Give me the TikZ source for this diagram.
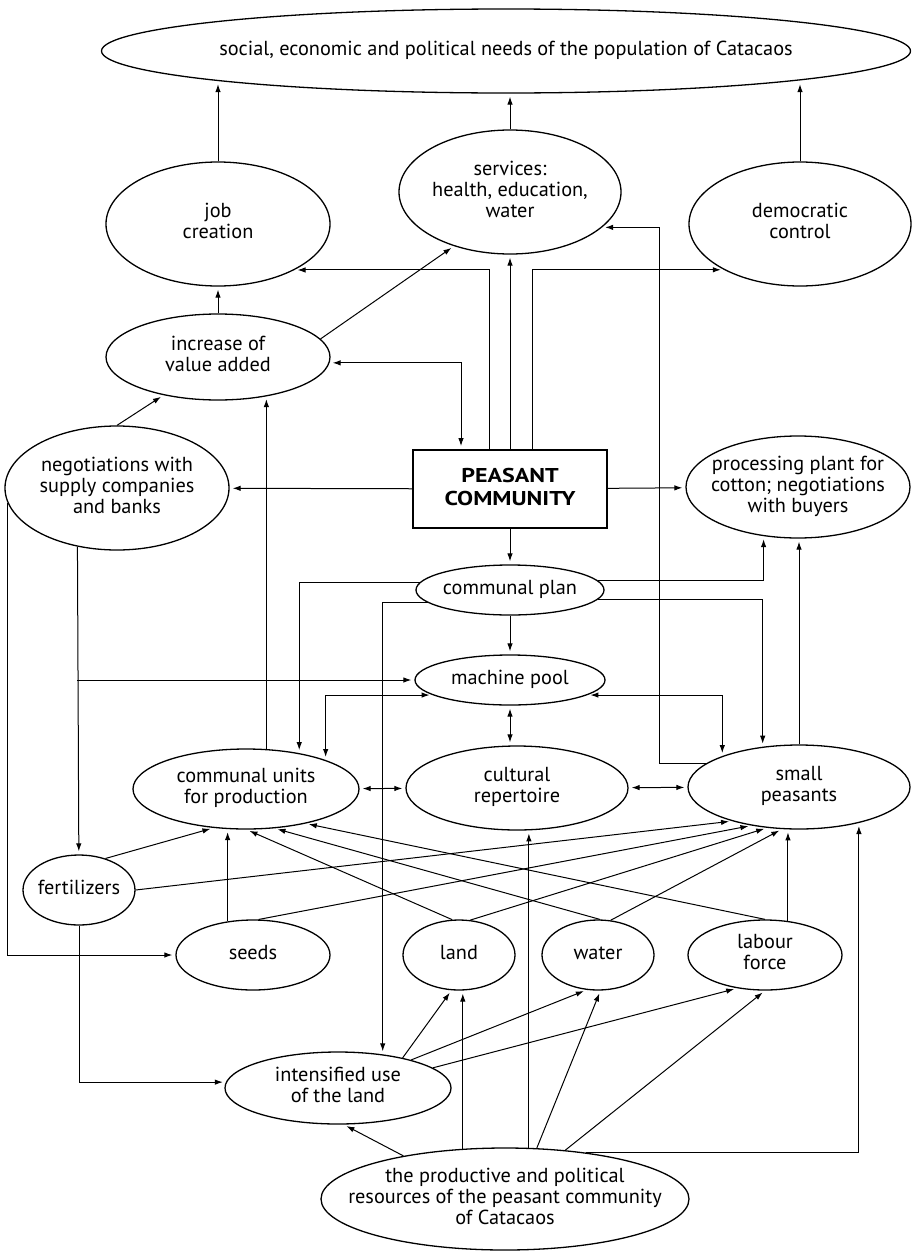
\documentclass[tikz,border=0pt]{standalone}
\usepackage{fontspec}
\setmainfont{PT Sans}
\newfontfamily\headfont{PT Sans Bold}[FakeStretch=1.2]
\usetikzlibrary{shapes.geometric,arrows.meta}

% centred multi-line text that does not widen the node
\newcommand\celltext[1]{\makebox[0pt]{\begin{tabular}{@{}c@{}}#1\end{tabular}}}

\begin{document}
\begin{tikzpicture}[x=1pt,y=-1pt,
  bub/.style 2 args={ellipse, draw, line width=1.3pt, inner sep=0pt,
    minimum width=#1, minimum height=#2},
  >={Latex[length=8pt,width=5.5pt]},
  conn/.style={->, line width=1pt, shorten >=3pt},
  conn2/.style={<->, line width=1pt, shorten >=3pt, shorten <=3pt},
  every node/.style={font=\fontsize{20.3}{21}\selectfont}
]
\useasboundingbox (0,0) rectangle (914,1253);

% ---------- nodes ----------
\node[bub={809pt}{84pt}] (needs) at (506,51)
  {\celltext{social, economic and political needs of the population of Catacaos}};
\node[bub={224pt}{124pt}] (job) at (218,224) {\celltext{job\\creation}};
\node[bub={222pt}{124pt}] (serv) at (510,192) {\celltext{services:\\health, education,\\water}};
\node[bub={222pt}{124pt}] (demo) at (800,224) {\celltext{democratic\\control}};
\node[bub={224pt}{86pt}] (incr) at (218,357) {\celltext{increase of\\value added}};
\node[bub={224pt}{124pt}] (nego) at (117,488)
  {\celltext{negotiations with\\supply companies\\and banks}};
\node[draw, line width=1.8pt, minimum width=194pt, minimum height=78pt, inner sep=0pt,
  font=\headfont\fontsize{20}{23}\selectfont] (peasant) at (510,489)
  {\celltext{PEASANT\\COMMUNITY}};
\node[bub={224pt}{102pt}] (proc) at (798,487)
  {\celltext{processing plant for\\cotton; negotiations\\with buyers}};
\node[bub={188pt}{50pt}] (plan) at (510,590) {\celltext{communal plan}};
\node[bub={190pt}{50pt}] (mach) at (510,680) {\celltext{machine pool}};
\node[bub={226pt}{80pt}] (comm) at (246,789) {\celltext{communal units\\for production}};
\node[bub={222pt}{84pt}] (cult) at (517,788) {\celltext{cultural\\repertoire}};
\node[bub={222pt}{84pt}] (small) at (799,787) {\celltext{small\\peasants}};
\node[bub={112pt}{70pt}] (fert) at (79,890) {\celltext{fertilizers}};
\node[bub={154pt}{70pt}] (seeds) at (253,955) {\celltext{seeds}};
\node[bub={112pt}{70pt}] (land) at (459,955) {\celltext{land}};
\node[bub={112pt}{70pt}] (water) at (598,955) {\celltext{water}};
\node[bub={154pt}{70pt}] (labour) at (765,955) {\celltext{labour\\force}};
\node[bub={226pt}{72pt}] (inten) at (338,1088) {\celltext{intensified use\\of the land}};
\node[bub={368pt}{102pt}] (prod) at (505,1199)
  {\celltext{the productive and political\\resources of the peasant community\\of Catacaos}};

% ---------- upper part ----------
\draw[conn] (job) -- (job |- needs.186);
\draw[conn] (serv) -- (serv |- needs.south);
\draw[conn] (demo) -- (demo |- needs.354);

\draw[conn] (incr) -- (job);
\draw[conn] (incr.10) -- (serv.224);
\draw[conn2] (incr.-3) -| ([xshift=-49pt]peasant.north);

\draw[conn] ([xshift=-21pt]peasant.north) |- (job.-31.5);
\draw[conn] (peasant.north) -- (peasant.north |- serv.south);
\draw[conn] ([xshift=22pt]peasant.north) |- (demo.211.5);
\draw[conn] (small.166) -- ++(-46,0) |- (serv.-21.7);

\draw[conn] (nego.north) -- (incr.215);
\draw[conn] (peasant) -- (nego);
\draw[conn] (peasant) -- (proc);
\draw[conn] (peasant) -- (plan);

% ---------- communal plan ----------
\draw[conn] (plan.6.6) -| (proc.235.9);
\draw[conn] (plan.-6.6) -| (small.132.2);
\draw[conn] (small.north) -- (small.north |- proc.south);
\draw[conn] (plan.175.6) -| (comm.34.3);
\draw[conn] (plan.189.2) -| (inten.37);
\draw[conn] (plan) -- (mach);
\draw[conn2] (mach.south) -- (mach.south |- cult.north);

% ---------- negotiations ----------
\draw[conn] (nego.236.9) -- (fert);
\draw[conn] (nego.236.9 |- mach) -- (mach);
\draw[conn] (nego.188.6) |- (seeds.west);

% ---------- middle row ----------
\draw[conn2] (mach.191.2) -| (comm.20.8);
\draw[conn2] (mach.-11.2) -| (small.158.5);
\draw[conn2] (comm) -- (cult);
\draw[conn2] (cult) -- (small);
\draw[conn] (comm.63.1) -- (comm.63.1 |- incr.-38.3);

% ---------- resources to production ----------
\draw[conn] (fert.50.9) -- (comm.230.4);
\draw[conn] (fert.east) -- (small.207.8);
\draw[conn] (seeds.127.1) -- (seeds.127.1 |- comm.245.5);
\draw[conn] (seeds.81.9) -- (small.219.7);
\draw[conn] (land.101.4) -- (comm.271);
\draw[conn] (land.72.2) -- (small.232.9);
\draw[conn] (water.87) -- (comm.306.8);
\draw[conn] (water.70.7) -- (small.248.8);
\draw[conn] (labour.north) -- (comm.-30);
\draw[conn] (labour.56.7) -- (labour.56.7 |- small.254);

\draw[conn] (fert.south) |- (inten.177.4);

% ---------- bottom ----------
\draw[conn] (prod.157.8) -- (inten.-81);
\draw[conn] (prod.130.2) -- (prod.130.2 |- land.-83.5);
\draw[conn] (prod.65.6) -- (prod.65.6 |- cult.-75.3);
\draw[conn] (prod.58.4) -- (water.-86.7);
\draw[conn] (prod.39.8) -- (labour.south);
\draw[conn] (prod.30.1) -| (small.-31.1);

\draw[conn] (inten.25) -- (land.258.6);
\draw[conn] (inten.21.5) -- (water.252.2);
\draw[conn] (inten.12) -- (labour.230.5);
\end{tikzpicture}
\end{document}
